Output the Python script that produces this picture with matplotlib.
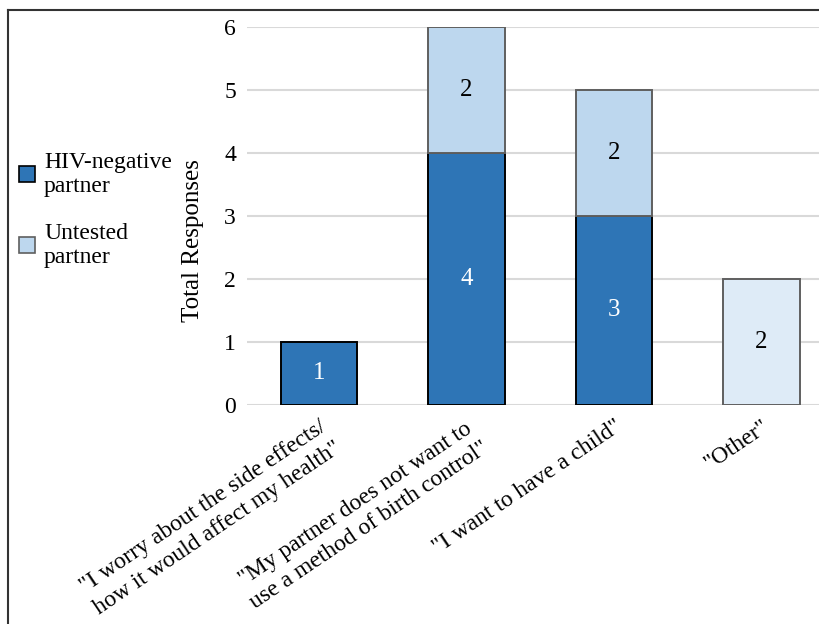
import matplotlib
matplotlib.use("Agg")
import matplotlib.pyplot as plt
from matplotlib.patches import Patch
from matplotlib.lines import Line2D

reasons = ['"I worry about the side effects/\nhow it would affect my health"',
           '"My partner does not want to\nuse a method of birth control"',
           '"I want to have a child"',
           '"Other"']
hiv_negative = [1, 4, 3, 0]
untested = [0, 2, 2, 2]

DARK = "#2e75b6"
LIGHT = "#bdd7ee"
LIGHTER = "#deebf7"
untested_cols = [LIGHT, LIGHT, LIGHT, LIGHTER]
FS = 17

plt.rcParams["font.family"] = ["Liberation Serif", "DejaVu Serif"]

fig = plt.figure(figsize=(8.19, 6.24), dpi=100)
ax = fig.add_axes([0.3016, 0.351, 0.6984, 0.6057])

x = list(range(len(reasons)))
w = 0.52

# dark segments (skip empty ones so no stray outline is drawn at zero)
xs = [xi for xi, v in zip(x, hiv_negative) if v > 0]
hv = [v for v in hiv_negative if v > 0]
b1 = ax.bar(xs, hv, w, color=DARK, edgecolor="black", linewidth=1.4, zorder=3)
ax.bar_label(b1, labels=[str(v) for v in hv], label_type="center",
             color="white", fontsize=FS + 1)

xs2 = [xi for xi, v in zip(x, untested) if v > 0]
uv = [v for v in untested if v > 0]
bot = [hiv_negative[xi] for xi in xs2]
cols = [untested_cols[xi] for xi in xs2]
b2 = ax.bar(xs2, uv, w, bottom=bot, color=cols, edgecolor="#5f5f5f",
            linewidth=1.4, zorder=3)
ax.bar_label(b2, labels=[str(v) for v in uv], label_type="center",
             color="black", fontsize=FS + 1)

ax.set_xlim(-0.488, 3.39)
ax.set_ylim(0, 6)
ax.set_yticks(range(7))
ax.tick_params(axis="y", length=0, pad=8, labelsize=FS)
ax.tick_params(axis="x", length=0, pad=8)
ax.set_xticks(x)
ax.set_xticklabels(reasons, rotation=34, ha="right", va="top",
                   rotation_mode="anchor", multialignment="center",
                   linespacing=1.3, fontsize=FS)
ax.grid(axis="y", color="#d9d9d9", linewidth=1.5, zorder=0)
for s in ax.spines.values():
    s.set_visible(False)
ax.set_ylabel("Total Responses", fontsize=FS + 1)
ax.yaxis.set_label_coords(-0.075, 0.434)

handles = [Patch(facecolor=DARK, edgecolor="black", linewidth=1.2),
           Patch(facecolor=LIGHT, edgecolor="#5f5f5f", linewidth=1.2)]
fig.legend(handles, ["HIV-negative\npartner", "Untested\npartner"],
           loc="upper left", bbox_to_anchor=(0.012, 0.772), frameon=False,
           fontsize=FS, handlelength=0.65, handleheight=0.65,
           handletextpad=0.4, labelspacing=1.1, borderaxespad=0)

# partial frame around the panel
fig.add_artist(Line2D([0.0098, 0.0098], [0.0, 0.984], transform=fig.transFigure,
                      color="#333333", linewidth=1.5))
fig.add_artist(Line2D([0.0098, 1.0], [0.984, 0.984], transform=fig.transFigure,
                      color="#333333", linewidth=1.5))

fig.savefig("out.png", dpi=100)
